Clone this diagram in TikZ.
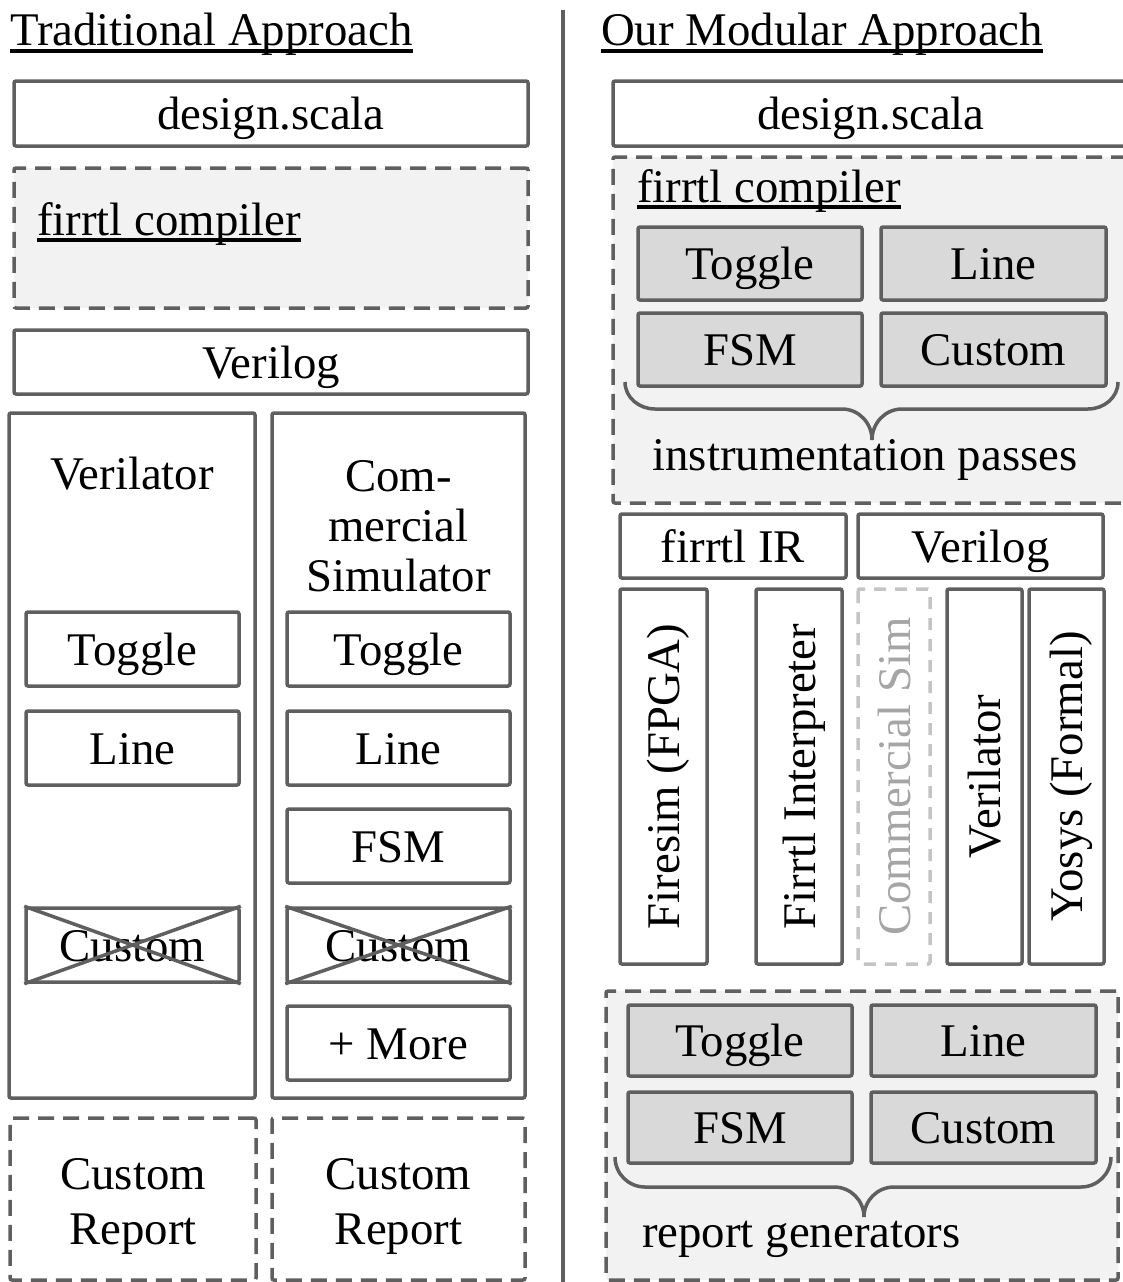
\documentclass[tikz,border=0pt]{standalone}
\usepackage{fontspec}
\setmainfont{Liberation Serif}
\definecolor{edgegray}{RGB}{95,95,95}
\definecolor{groupfill}{RGB}{242,242,242}
\definecolor{passfill}{RGB}{217,217,217}
\definecolor{faintedge}{RGB}{196,196,196}
\definecolor{fainttext}{RGB}{165,165,165}
\begin{document}
\begin{tikzpicture}[x=1pt,y=-1pt,
  every node/.style={font=\fontsize{46.8pt}{50pt}\selectfont},
  box/.style={draw=edgegray, line width=3.5pt, rounded corners=2pt, fill=white, inner sep=0pt, text height=32pt, text depth=0pt},
  dashbox/.style={box, dash pattern=on 16pt off 9pt},
  group/.style={dashbox, fill=groupfill},
  pass/.style={box, fill=passfill},
  vbox/.style={box, rotate=90, minimum width=375pt},
  ghost/.style={vbox, draw=faintedge, text=fainttext, dash pattern=on 12pt off 9pt},
  title/.style={inner sep=0pt, anchor=base west},
  plain/.style={inner sep=0pt},
  uline/.style={line width=4pt},
  edge/.style={draw=edgegray, line width=3.5pt}]
\useasboundingbox (0,0) rectangle (1123,1282);
\node[title] (tradT) at (10,45) {Traditional Approach};
\draw[uline] ([yshift=-6pt]tradT.base west) -- ([yshift=-6pt]tradT.base east);
\node[box, minimum width=514pt, minimum height=65pt] (scalaL) at (271,113.5) {design.scala};
\node[group, minimum width=514pt, minimum height=140pt] (firL) at (271,238) {};
\node[title] (firLT) at (37,235) {firrtl compiler};
\draw[uline] ([yshift=-5pt]firLT.base west) -- ([yshift=-5pt]firLT.base east);
\node[box, minimum width=514pt, minimum height=64pt] (verL) at (271,362) {Verilog};
\node[box, minimum width=246pt, minimum height=685pt] (simA) at (132,755.5) {};
\node[box, minimum width=253pt, minimum height=685pt] (simB) at (398.5,755.5) {};
\node[plain, anchor=base] (simAT) at (132,489) {Verilator};
\node[plain, anchor=north, align=center] (simBT) at (398.5,460) {Com-\\mercial\\Simulator};
\node[box, minimum width=213pt, minimum height=74pt] (togA) at (132.5,649) {Toggle};
\node[box, minimum width=213pt, minimum height=74pt] (linA) at (132.5,748) {Line};
\node[box, minimum width=213pt, minimum height=74pt] (cusA) at (132.5,945) {Custom};
\draw[edge] (cusA.north west) -- (cusA.south east) (cusA.south west) -- (cusA.north east);
\node[box, minimum width=223pt, minimum height=74pt] (togB) at (398.5,649) {Toggle};
\node[box, minimum width=223pt, minimum height=74pt] (linB) at (398.5,748) {Line};
\node[box, minimum width=223pt, minimum height=74pt] (fsmB) at (398.5,846) {FSM};
\node[box, minimum width=223pt, minimum height=74pt] (cusB) at (398.5,945) {Custom};
\draw[edge] (cusB.north west) -- (cusB.south east) (cusB.south west) -- (cusB.north east);
\node[box, minimum width=223pt, minimum height=74pt] (morB) at (398.5,1043) {+ More};
\node[dashbox, minimum width=246pt, minimum height=162pt] (repA) at (133,1199) {};
\node[dashbox, minimum width=253pt, minimum height=162pt] (repB) at (398.5,1199) {};
\node[plain, anchor=north, align=center, font=\fontsize{46.8pt}{55pt}\selectfont] (repAT) at (133,1158) {Custom\\Report};
\node[plain, anchor=north, align=center, font=\fontsize{46.8pt}{55pt}\selectfont] (repBT) at (398.5,1158) {Custom\\Report};
\draw[edge] (563,10) -- (563,1282);
\node[title] (modT) at (601,45) {Our Modular Approach};
\draw[uline] ([yshift=-6pt]modT.base west) -- ([yshift=-6pt]modT.base east);
\node[box, minimum width=516pt, minimum height=65pt] (scalaR) at (871,113.5) {design.scala};
\node[group, minimum width=516pt, minimum height=346pt] (firR) at (871,330) {};
\node[title] (firRT) at (637,202) {firrtl compiler};
\draw[uline] ([yshift=-5pt]firRT.base west) -- ([yshift=-5pt]firRT.base east);
\node[pass, minimum width=224pt, minimum height=73pt] (insTog) at (750,263.5) {Toggle};
\node[pass, minimum width=225pt, minimum height=73pt] (insLin) at (993.5,263.5) {Line};
\node[pass, minimum width=224pt, minimum height=73pt] (insFsm) at (750,349.5) {FSM};
\node[pass, minimum width=225pt, minimum height=73pt] (insCus) at (993.5,349.5) {Custom};
\draw[edge, rounded corners=0pt] (625,382) to[out=-90,in=180] (655,409) -- (842,409) to[out=0,in=90] (872,440)
  to[out=90,in=180] (902,409) -- (1088,409) to[out=0,in=-90] (1118,382);
\node[plain, anchor=base] (insT) at (865,470) {instrumentation passes};
\node[box, minimum width=226pt, minimum height=64pt] (irR) at (733,546) {firrtl IR};
\node[box, minimum width=245pt, minimum height=64pt] (verR) at (980.5,546) {Verilog};
\node[vbox, minimum height=87pt] (fire) at (663.5,776.5) {Firesim (FPGA)};
\node[vbox, minimum height=86pt] (interp) at (799,776.5) {Firrtl Interpreter};
\node[ghost, minimum height=72pt] (comm) at (894,776.5) {Commercial Sim};
\node[vbox, minimum height=75pt] (veri) at (984.5,776.5) {Verilator};
\node[vbox, minimum height=75pt] (yosys) at (1066.5,776.5) {Yosys (Formal)};
\node[group, minimum width=512pt, minimum height=289pt] (repR) at (862,1135.5) {};
\node[pass, minimum width=224pt, minimum height=71pt] (genTog) at (740,1040.5) {Toggle};
\node[pass, minimum width=225pt, minimum height=71pt] (genLin) at (983.5,1040.5) {Line};
\node[pass, minimum width=224pt, minimum height=71pt] (genFsm) at (740,1127.5) {FSM};
\node[pass, minimum width=225pt, minimum height=71pt] (genCus) at (983.5,1127.5) {Custom};
\draw[edge, rounded corners=0pt] (615,1157) to[out=-90,in=180] (645,1187) -- (834,1187) to[out=0,in=90] (864,1217)
  to[out=90,in=180] (894,1187) -- (1081,1187) to[out=0,in=-90] (1111,1157);
\node[title] (genT) at (642,1247) {report generators};
\end{tikzpicture}
\end{document}
